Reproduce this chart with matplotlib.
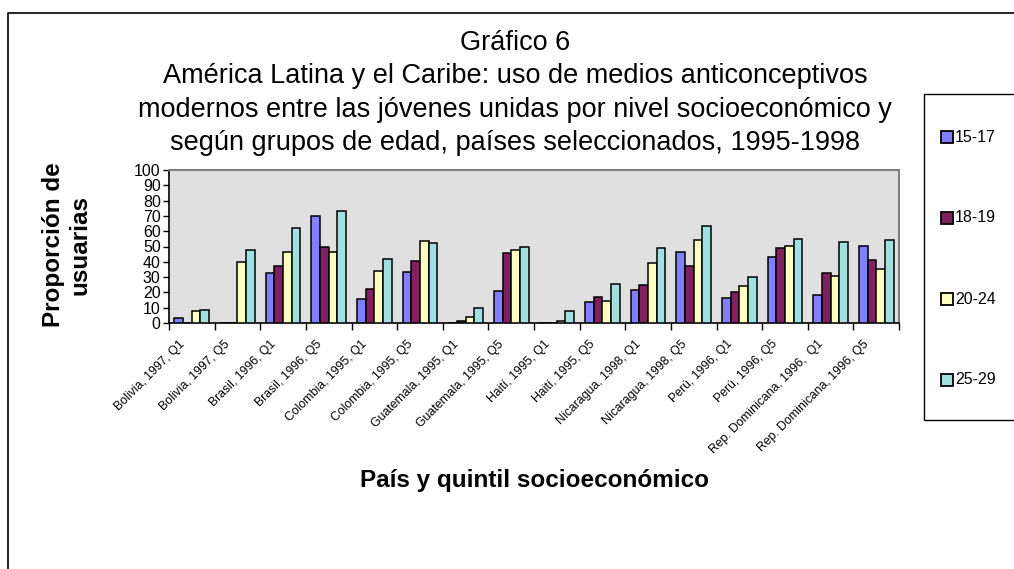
import matplotlib

matplotlib.use("Agg")

import matplotlib.pyplot as plt
from matplotlib.lines import Line2D
from matplotlib.patches import Rectangle
from matplotlib.transforms import ScaledTranslation
import numpy as np

plt.rcParams["font.family"] = ["Liberation Sans", "DejaVu Sans"]

categories = [
    "Bolivia, 1997, Q1", "Bolivia, 1997, Q5",
    "Brasil, 1996, Q1", "Brasil, 1996, Q5",
    "Colombia, 1995, Q1", "Colombia, 1995, Q5",
    "Guatemala, 1995, Q1", "Guatemala, 1995, Q5",
    "Haití, 1995, Q1", "Haití, 1995, Q5",
    "Nicaragua, 1998, Q1", "Nicaragua, 1998, Q5",
    "Perú, 1996, Q1", "Perú, 1996, Q5",
    "Rep. Dominicana, 1996,  Q1", "Rep. Dominicana, 1996, Q5",
]
age_groups = ["15-17", "18-19", "20-24", "25-29"]

edad_15_17 = [3.3, 0, 32.8, 70, 15.7, 33.3, 0, 20.7, 0, 13.5, 21.7, 46.7, 16.5, 43.3, 18.3, 50.2]
edad_18_19 = [0, 0, 37, 50, 22.4, 40.2, 1.2, 46, 0, 17.2, 24.8, 37, 20, 48.7, 32.4, 41.1]
edad_20_24 = [7.6, 39.6, 46.7, 46.3, 33.7, 53.7, 3.9, 47.8, 1, 14.3, 39.1, 54.3, 24.3, 50.2, 30.9, 35.2]
edad_25_29 = [8.7, 47.4, 62, 73.5, 42, 52.6, 9.6, 49.7, 8, 25.7, 48.9, 63.3, 30.2, 54.6, 53, 54.3]

title_lines = [
    "Gráfico 6",
    "América Latina y el Caribe: uso de medios anticonceptivos",
    "modernos entre las jóvenes unidas por nivel socioeconómico y",
    "según grupos de edad, países seleccionados, 1995-1998",
]

series = [edad_15_17, edad_18_19, edad_20_24, edad_25_29]
colors = ["#8080FF", "#802060", "#FFFFC0", "#A0E0E0"]

W, H = 1014, 569
fig = plt.figure(figsize=(W / 100, H / 100), dpi=100)
ax = fig.add_axes([169 / W, 1 - 323 / H, 730 / W, 153 / H])
ax.set_facecolor("#E0E0E0")

x = np.arange(len(categories))
width = 0.19
for i, (vals, color) in enumerate(zip(series, colors)):
    ax.bar(x + (i - 1.5) * width, vals, width, color=color, edgecolor="black",
           linewidth=1.1, label=age_groups[i], zorder=3)

ax.set_xlim(-0.5, len(categories) - 0.5)
ax.set_ylim(0, 100)
ax.set_yticks(np.arange(0, 101, 10))
ax.tick_params(axis="y", labelsize=11.5, length=4, width=1, pad=2)
ax.set_xticks(x)
ax.set_xticklabels(categories, rotation=45, ha="right", va="center",
                   rotation_mode="anchor", fontsize=8.8)
ax.tick_params(axis="x", length=0, pad=14)
ax.set_xticks(np.arange(-0.5, len(categories)), minor=True)
ax.tick_params(axis="x", which="minor", length=5, width=1, direction="out")
shift = ScaledTranslation(-0.09, 0, fig.dpi_scale_trans)
for lbl in ax.get_xticklabels():
    lbl.set_transform(lbl.get_transform() + shift)

for side in ["top", "right"]:
    ax.spines[side].set_color("#808080")
    ax.spines[side].set_linewidth(1.5)
for side in ["left", "bottom"]:
    ax.spines[side].set_color("black")
    ax.spines[side].set_linewidth(1.2)

fig.text(67 / W, 1 - 245 / H, "Proporción de\nusuarias", rotation=90, ha="center",
         va="center", multialignment="center", fontsize=17.5, fontweight="bold",
         linespacing=1.2)
fig.text(534 / W, 1 - 481 / H, "País y quintil socioeconómico", ha="center",
         va="center", fontsize=17.5, fontweight="bold")

for k, line in enumerate(title_lines):
    fig.text(515 / W, 1 - (43 + k * 33.3) / H, line, ha="center", va="center",
             fontsize=19.5)

# legend box
fig.patches.append(Rectangle((924 / W, 1 - 420 / H), 0.2, (420 - 94) / H,
                             transform=fig.transFigure, facecolor="white",
                             edgecolor="black", linewidth=1))
for i, (lab, color) in enumerate(zip(age_groups, colors)):
    yy = 1 - (137 + i * 81) / H
    fig.lines.append(Line2D([947 / W], [yy], marker="s", markersize=8, color=color,
                            markeredgecolor="black", markeredgewidth=1.3,
                            transform=fig.transFigure))
    fig.text(955 / W, yy, lab, fontsize=11.5, va="center", ha="left")

# outer frame
fig.lines.append(Line2D([8 / W, 8 / W, 1.0], [0.0, 1 - 13 / H, 1 - 13 / H],
                        color="black", linewidth=1.2, transform=fig.transFigure))

fig.savefig("out.png", dpi=100)
